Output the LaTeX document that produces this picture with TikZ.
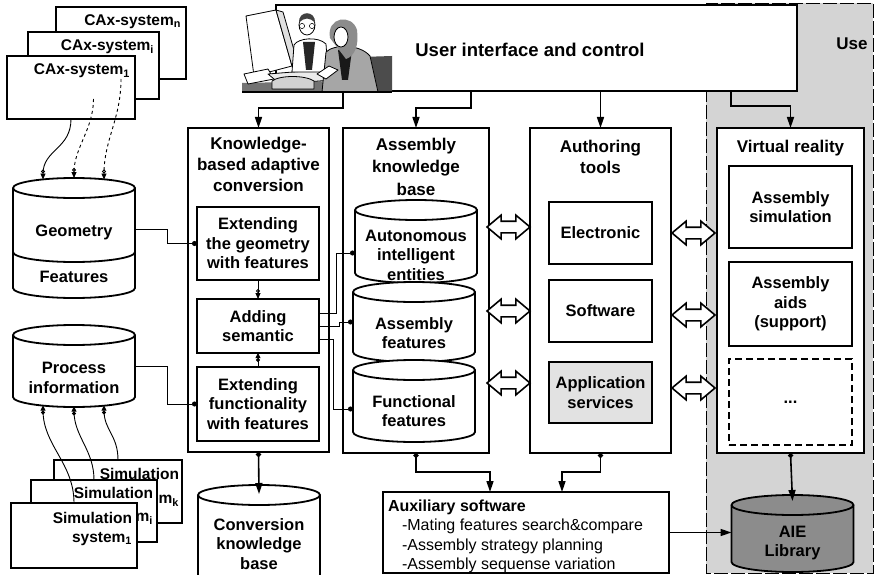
\documentclass[tikz,border=0pt]{standalone}
\usepackage{fontspec}
\setmainfont{Liberation Sans}
\usetikzlibrary{arrows.meta,shapes.arrows,positioning}

\definecolor{usegray}{RGB}{212,212,212}
\definecolor{svcgray}{RGB}{226,226,226}
\definecolor{libgray}{RGB}{140,140,140}

\newcommand{\uifont}{\fontsize{18.5}{22}\selectfont\bfseries}
\newcommand{\ttlfont}{\fontsize{17}{21}\selectfont\bfseries}
\newcommand{\boxfont}{\fontsize{16.5}{19.5}\selectfont\bfseries}
\newcommand{\stackfont}{\fontsize{15.5}{19}\selectfont\bfseries}
\newcommand{\auxfont}{\fontsize{16}{19.3}\selectfont}

% database drum: [fill]{name}{centre x}{top y}{bottom y}
\newcommand{\drum}[5][white]{%
  \draw[line width=1.8pt, fill=#1] (#3-61,#4+10) -- (#3-61,#5-10)
    arc[start angle=180, end angle=0, x radius=61, y radius=10]
    -- (#3+61,#4+10) arc[start angle=0, end angle=-180, x radius=61, y radius=10] -- cycle;
  \draw[line width=1.8pt] (#3-61,#4+10) arc[start angle=180, end angle=0, x radius=61, y radius=10];
  \node[minimum width=122pt, minimum height={#5-#4}] (#2) at (#3,{(#4+#5)/2}) {};
}

\tikzset{
  every node/.style={inner sep=0pt, outer sep=0pt},
  blk/.style={draw, line width=1.8pt, fill=white},
  ttl/.style={font=\ttlfont, align=center},
  txt/.style={font=\boxfont, align=center},
  stacktxt/.style={font=\stackfont, align=right},
  usezone/.style={fill=usegray, draw, line width=0.8pt, dash pattern=on 14pt off 3pt},
  flow/.style={line width=1.6pt, -{Triangle[length=11pt,width=7pt]}},
  dotflow/.style={line width=1.6pt, {Circle[length=5pt]}-{Triangle[length=11pt,width=7pt]}},
  wire/.style={line width=0.9pt},
  dotwire/.style={wire, -{Circle[length=5pt]}},
  ringtip/.style={wire, -{Circle[open,length=4pt]Triangle[length=6pt,width=5pt]}},
  dottip/.style={wire, -{Circle[length=4pt]Triangle[length=5pt,width=5pt]}},
  dblarrow/.style={double arrow, draw, line width=1.6pt, fill=white,
    minimum height=43pt, inner sep=5pt, double arrow head extend=6pt,
    double arrow tip angle=80},
}

\begin{document}
\begin{tikzpicture}[x=1pt, y=-1pt]
\useasboundingbox (0,0) rectangle (875,575);
\clip (0,0) rectangle (875,575);

% Use area
\draw[usezone] (706,3) rectangle (873,573);
\node[ttl] (uselbl) at (852,44) {Use};

% CAx systems, back to front
\node[blk, minimum width=130pt, minimum height=72pt] (caxn) at (121,43) {};
\node[stacktxt, anchor=north east] (caxnlbl) at ([xshift=-5pt,yshift=-8pt]caxn.north east) {CAx-system\textsubscript{n}};
\node[blk, minimum width=131pt, minimum height=67pt] (caxi) at (93.5,65.5) {};
\node[stacktxt, anchor=north east] (caxilbl) at ([xshift=-5pt,yshift=-8pt]caxi.north east) {CAx-system\textsubscript{i}};
\node[blk, minimum width=128pt, minimum height=63pt] (cax1) at (71,87.5) {};
\node[stacktxt, anchor=north east] (cax1lbl) at ([xshift=-5pt,yshift=-8pt]cax1.north east) {CAx-system\textsubscript{1}};

% geometry / features store
\drum{geo}{74}{178}{298}
\draw[line width=1.8pt] (13,252) arc[start angle=180, end angle=0, x radius=61, y radius=10];
\node[txt] (geolbl) at (74,232) {Geometry};
\node[txt] (featlbl) at (74,277) {Features};

% process information store
\drum{proc}{74}{325}{407}
\node[txt] (proclbl) at (74,378) {Process\\information};

% simulation systems, back to front
\node[blk, minimum width=128pt, minimum height=63pt] (simk) at (118,491.5) {};
\node[stacktxt, anchor=north east] (simklbl) at ([xshift=-3pt,yshift=-8pt]simk.north east) {Simulation\\[5pt]system\textsubscript{k}};
\node[blk, minimum width=126pt, minimum height=62pt] (simi) at (94,511) {};
\node[stacktxt, anchor=north east] (similbl) at ([xshift=-4pt,yshift=-7pt]simi.north east) {Simulation\\[4pt]system\textsubscript{i}};
\node[blk, minimum width=126pt, minimum height=65pt] (sim1) at (74,535.5) {};
\node[stacktxt, anchor=north east] (sim1lbl) at ([xshift=-5pt,yshift=-9pt]sim1.north east) {Simulation\\system\textsubscript{1}};

% user interface
\node[blk, minimum width=521pt, minimum height=86pt] (ui) at (536.5,48) {};
\node[font=\uifont] (uilbl) at (530,50) {User interface and control};

% two users at a workstation
\begin{scope}[line width=0.8pt, line join=round]
  \fill[black!70] (330,58) -- (392,56) -- (392,92) -- (330,92) -- cycle;
  \fill[black!55] (242,83) -- (335,81) -- (340,92) -- (242,92) -- cycle;
  \draw[fill=white] (246,16) -- (276,10) -- (292,66) -- (254,76) -- cycle;
  \draw[fill=black!12] (276,10) -- (283,12) -- (298,64) -- (292,66) -- cycle;
  \draw[fill=white] (244,74) -- (268,69) -- (274,79) -- (248,84) -- cycle;
  \draw[fill=black!8] (268,74) -- (318,70) -- (332,80) -- (280,84) -- cycle;
  \draw[fill=black!18] (272,81) .. controls (280,75) and (305,75) .. (314,81) -- (314,89) -- (272,89) -- cycle;
  \draw[fill=white] (292,72) -- (294,45) .. controls (298,38) and (318,36) .. (326,44) -- (328,72) -- cycle;
  \fill[black!85] (303,42) -- (315,42) -- (312,70) -- (306,70) -- cycle;
  \draw[fill=white] (307,25) ellipse (8 and 10);
  \fill[black!75] (299,23) .. controls (298,10) and (316,10) .. (315,23) .. controls (310,17) and (304,17) .. cycle;
  \draw[line width=0.5pt] (302,26) circle (2.6) (312,26) circle (2.6);
  \draw[fill=black!35] (322,92) -- (326,52) .. controls (334,44) and (360,44) .. (370,56) -- (378,92) -- cycle;
  \fill[black!90] (338,50) -- (352,50) -- (348,80) -- (342,80) -- cycle;
  \fill[black!45] (330,38) .. controls (326,17) and (352,13) .. (357,30) .. controls (359,45) and (355,56) .. (346,59) -- cycle;
  \draw[fill=white] (341,37) ellipse (7 and 10);
  \draw[fill=white] (317,74) -- (329,66) -- (338,70) -- (326,79) -- cycle;
  \draw[line width=1.2pt] (242,92) -- (392,92);
\end{scope}

% knowledge-based adaptive conversion
\node[blk, minimum width=141pt, minimum height=324pt] (kbac) at (258.5,290) {};
\node[ttl, below=9pt of kbac.north] (kbacttl) {Knowledge-\\based adaptive\\conversion};
\node[blk, txt, minimum width=122pt, minimum height=73pt] (extgeom) at (258,243.5) {Extending\\the geometry\\with features};
\node[blk, txt, minimum width=122pt, minimum height=54pt] (adding) at (258,326) {Adding\\semantic};
\node[blk, txt, minimum width=122pt, minimum height=74pt] (extfunc) at (258,404) {Extending\\functionality\\with features};

% conversion knowledge base
\drum{ckb}{259}{485}{585}
\node[txt] (ckblbl) at (259,544) {Conversion\\knowledge\\base};

% assembly knowledge base
\node[blk, minimum width=146pt, minimum height=325pt] (akb) at (416,290.5) {};
\node[ttl, below=10pt of akb.north, font=\fontsize{17}{22.5}\selectfont\bfseries] (akbttl) {Assembly\\knowledge\\base};
\drum{aie}{416}{200}{283}
\node[txt] (aielbl) at (416,255) {Autonomous\\intelligent\\entities};
\drum{asmfeat}{414}{282}{362}
\node[txt] (asmfeatlbl) at (414,333) {Assembly\\features};
\drum{funcfeat}{414}{360}{442}
\node[txt] (funcfeatlbl) at (414,411) {Functional\\features};

% authoring tools
\node[blk, minimum width=141pt, minimum height=325pt] (auth) at (600.5,290.5) {};
\node[ttl, below=12pt of auth.north] (authttl) {Authoring\\tools};
\node[blk, txt, minimum width=103pt, minimum height=62pt] (elec) at (600.5,233) {Electronic};
\node[blk, txt, minimum width=103pt, minimum height=62pt] (soft) at (600.5,311) {Software};
\node[blk, txt, fill=svcgray, minimum width=103pt, minimum height=61pt] (appsrv) at (600.5,392.5) {Application\\services};

% virtual reality
\node[blk, minimum width=147pt, minimum height=325pt] (vr) at (790.5,290.5) {};
\node[ttl, below=12pt of vr.north] (vrttl) {Virtual reality};
\node[blk, txt, minimum width=123pt, minimum height=82pt] (asmsim) at (790.5,207) {Assembly\\simulation};
\node[blk, txt, minimum width=123pt, minimum height=84pt] (asmaids) at (790.5,304) {Assembly\\aids\\(support)};
\node[blk, txt, dash pattern=on 7pt off 4pt, minimum width=123pt, minimum height=86pt] (more) at (790.5,402) {...};

% AIE library
\drum[libgray]{aielib}{792.5}{495}{572}
\node[txt] (aieliblbl) at (792.5,543) {AIE\\Library};

% auxiliary software
\node[blk, minimum width=286pt, minimum height=81pt] (aux) at (526,532.5) {};
\node[font=\auxfont, align=left, anchor=north west] (auxlbl) at (388,500)
  {\textbf{Auxiliary software}\\\hspace*{14pt}-Mating features search\&compare\\\hspace*{14pt}-Assembly strategy planning\\\hspace*{14pt}-Assembly sequense variation};

% exchange arrows
\node[dblarrow] (xa1) at (508.5,227) {};
\node[dblarrow] (xa2) at (508.5,311) {};
\node[dblarrow] (xa3) at (508.5,383) {};
\node[dblarrow] (xb1) at (693.5,233) {};
\node[dblarrow] (xb2) at (693.5,315) {};
\node[dblarrow] (xb3) at (693.5,388) {};

% control flow from the user interface
\draw[flow] ([xshift=-193.5pt]ui.south) -- ++(0,17) -| (kbac.north);
\draw[flow] ([xshift=-65.5pt]ui.south) -- ++(0,17) -| (akb.north);
\draw[flow] (ui.south -| auth.north) -- (auth.north);
\draw[flow] ([xshift=194.5pt]ui.south) -- ++(0,15) -| (vr.north);

% data sources
\draw[ringtip] (cax1.south) .. controls +(0,30) and +(0,-30) .. ([xshift=-31pt,yshift=-1.5pt]geo.north);
\draw[ringtip, dashed] (caxi.south) .. controls +(0,30) and +(0,-30) .. (geo.north);
\draw[ringtip, dashed] (caxn.south) .. controls +(0,40) and +(0,-40) .. ([xshift=30pt,yshift=-1.5pt]geo.north);
\draw[dottip] (simk.north) .. controls +(0,-25) and +(0,25) .. ([xshift=30pt,yshift=1.5pt]proc.south);
\draw[dottip] (simi.north) .. controls +(0,-30) and +(0,30) .. ([yshift=0.5pt]proc.south);
\draw[dottip] (sim1.north) .. controls +(0,-40) and +(0,40) .. ([xshift=-31pt,yshift=1.5pt]proc.south);
\draw[dotwire] ([yshift=9pt]geo.east) -- ++(32,0) |- (extgeom.west);
\draw[dotwire] (proc.east) -- ++(32,0) |- (extfunc.west);

% conversion steps
\draw[ringtip] (extgeom.south) -- (adding.north);
\draw[dottip] (extfunc.north) -- (adding.south);
\draw[dotwire] ([yshift=13pt]adding.east) -| ([xshift=-19pt,yshift=-11.5pt]aie.west) -- ([yshift=-11.5pt]aie.west);
\draw[dotwire] (adding.east) -| ([xshift=-14pt]asmfeat.west) -- (asmfeat.west);
\draw[dotwire] ([yshift=-13pt]adding.east) -| ([xshift=-20pt,yshift=-8pt]funcfeat.west) -- ([yshift=-8pt]funcfeat.west);

% lower links
\draw[dotflow] (kbac.south) -- ([yshift=-9pt]ckb.north);
\draw[dotflow] (akb.south) -- ++(0,19) -| ([xshift=-36pt]aux.north);
\draw[dotflow] (auth.south) -- ++(0,19) -| ([xshift=36pt]aux.north);
\draw[flow] (aux.east) -- (aux.east -| aielib.west);
\draw[dotflow] (vr.south) -- ([yshift=-6pt]aielib.north);
\end{tikzpicture}
\end{document}
